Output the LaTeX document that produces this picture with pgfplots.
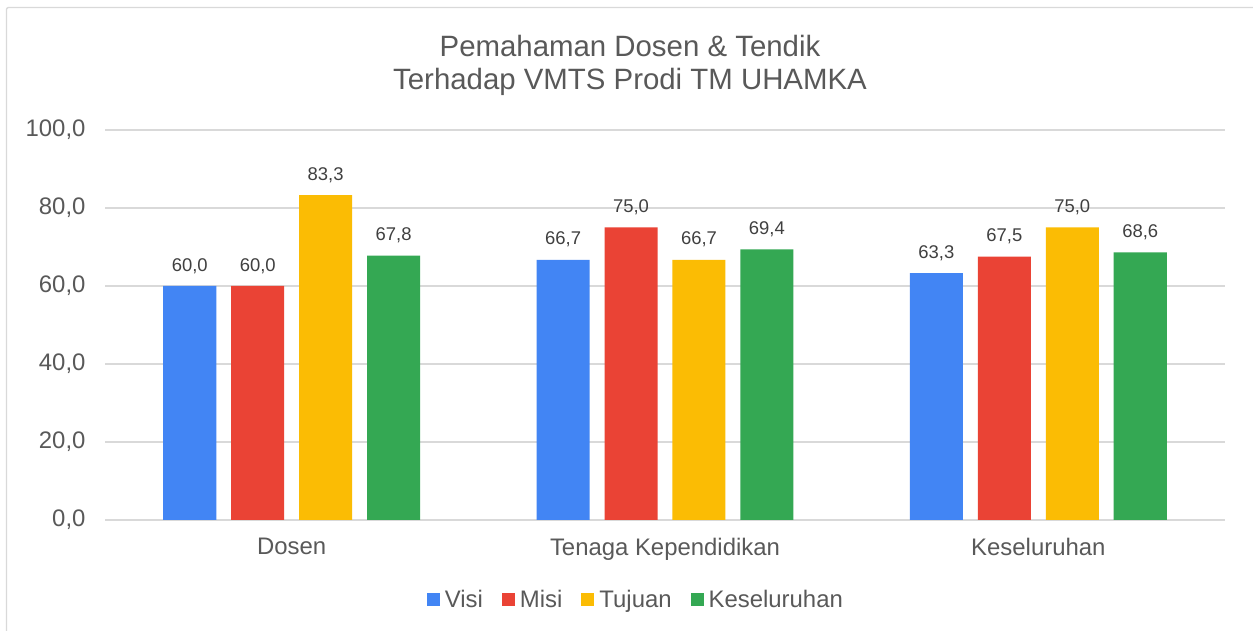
\documentclass[border=0pt]{standalone}
\usepackage{pgfplots}
\pgfplotsset{compat=1.18}
\usepackage{fontspec}
\setmainfont{Liberation Sans}
\definecolor{cVisi}{HTML}{4285F4}
\definecolor{cMisi}{HTML}{EA4335}
\definecolor{cTuj}{HTML}{FBBC04}
\definecolor{cKes}{HTML}{34A853}
\definecolor{txt}{HTML}{595959}
\definecolor{lbl}{HTML}{404040}
\definecolor{gridc}{HTML}{D9D9D9}
\begin{document}
\begin{tikzpicture}[x=1bp,y=1bp]
\useasboundingbox (0,0) rectangle (1253,631);
\clip (0,0) rectangle (1253,631);
\fill[white] (0,0) rectangle (1253,631);
\draw[gridc, line width=1.3bp, rounded corners=2bp] (6.5,623.5) rectangle (1280,-20);
\node[align=center, text=txt, font=\fontsize{29.5}{33}\selectfont] at (630,566) {Pemahaman Dosen \& Tendik\\Terhadap VMTS Prodi TM UHAMKA};
\begin{axis}[
  at={(105bp,111bp)}, anchor=south west, scale only axis,
  width=1120bp, height=390bp,
  xmin=-0.5, xmax=2.5, ymin=0, ymax=100, enlargelimits=false,
  ytick={0,20,...,100}, xtick={0,1,2},
  xticklabels={Dosen, Tenaga Kependidikan, Keseluruhan},
  ymajorgrids, grid style={gridc, line width=1.3bp},
  axis x line*=bottom, axis y line*=left,
  x axis line style={gridc, line width=1.3bp, -},
  y axis line style={draw=none},
  major tick length=0pt,
  yticklabel style={text=txt, font=\fontsize{24}{28}\selectfont, xshift=-16bp},
  xticklabel style={text=txt, font=\fontsize{24}{28}\selectfont, yshift=-15bp},
  ybar, bar width=0.142,
  nodes near coords,
  nodes near coords style={text=lbl, font=\fontsize{18.5}{22}\selectfont, yshift=9bp},
  legend image code/.code={\fill[#1] (0bp,-6.5bp) rectangle (13bp,6.5bp);},
  legend columns=-1,
  legend style={at={(0.474,-0.205)}, anchor=center, draw=none, fill=none,
    font=\fontsize{24}{28}\selectfont, text=txt,
    /tikz/every even column/.append style={column sep=17bp}},
  /pgf/number format/.cd, fixed, fixed zerofill, precision=1, use comma, assume math mode=true
]
\addplot[fill=cVisi, draw=none, bar shift=-0.273] coordinates {(0,60.0) (1,66.7) (2,63.3)};
\addlegendentry{\hspace{3bp}Visi}
\addplot[fill=cMisi, draw=none, bar shift=-0.091] coordinates {(0,60.0) (1,75.0) (2,67.5)};
\addlegendentry{\hspace{3bp}Misi}
\addplot[fill=cTuj, draw=none, bar shift=0.091] coordinates {(0,83.3) (1,66.7) (2,75.0)};
\addlegendentry{\hspace{3bp}Tujuan}
\addplot[fill=cKes, draw=none, bar shift=0.273] coordinates {(0,67.8) (1,69.4) (2,68.6)};
\addlegendentry{\hspace{3bp}Keseluruhan}
\end{axis}
\end{tikzpicture}
\end{document}
